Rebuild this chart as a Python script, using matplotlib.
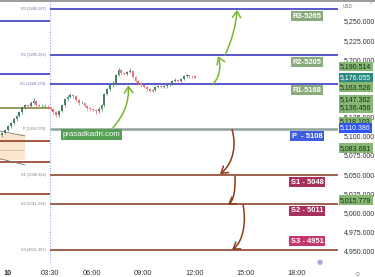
import numpy as np
import matplotlib.pyplot as plt
from matplotlib.path import Path
from matplotlib.patches import FancyArrowPatch, Rectangle
from matplotlib.lines import Line2D

plt.rcParams['font.family'] = ['Liberation Sans', 'DejaVu Sans']

# 10 minute candles, time in hours
first_open = 5100.5
closes = [5103.2, 5107.1, 5112.4, 5116.3, 5121.6, 5125.5, 5130.7, 5137.3, 5139.9, 5138.5,
          5142.5, 5145.2, 5139.9, 5138.6, 5139.5, 5138.2, 5137.3, 5134.7, 5130.7, 5126.8,
          5132.0, 5139.9, 5147.8, 5150.4, 5153.0, 5151.7, 5146.5, 5142.5, 5143.0, 5138.6,
          5136.0, 5134.7, 5133.4, 5132.0, 5134.7, 5139.9, 5154.3, 5160.9, 5166.1, 5168.7,
          5179.2, 5185.8, 5181.8, 5180.5, 5183.2, 5184.5, 5176.6, 5171.4, 5168.7, 5166.1,
          5163.5, 5160.9, 5158.3, 5159.6, 5163.5, 5164.8, 5163.5, 5164.8, 5166.1, 5167.4,
          5171.4, 5172.7, 5171.4, 5174.0, 5177.9, 5179.2, 5177.9, 5177.5, 5176.1]
highs = [5105, 5109, 5114, 5118, 5124, 5127, 5133, 5139, 5142, 5141,
         5146, 5149, 5147, 5142, 5141, 5141, 5140, 5139, 5136, 5132,
         5134, 5141, 5150, 5153, 5156, 5155, 5153, 5148, 5145, 5144,
         5140, 5138, 5136, 5135, 5137, 5142, 5156, 5163, 5168, 5171,
         5181, 5189, 5187, 5184, 5185, 5188, 5186, 5178, 5173, 5170,
         5167, 5165, 5162, 5161, 5165, 5166, 5166, 5166, 5168, 5169,
         5173, 5175, 5174, 5176, 5180, 5181, 5180, 5179, 5178]
lows = [5099, 5102, 5106, 5110, 5115, 5120, 5124, 5129, 5135, 5136,
        5137, 5141, 5138, 5137, 5137, 5136, 5135, 5132, 5128, 5124,
        5125, 5131, 5138, 5146, 5149, 5149, 5145, 5140, 5141, 5137,
        5134, 5133, 5131, 5129, 5130, 5133, 5138, 5153, 5159, 5164,
        5167, 5178, 5180, 5179, 5179, 5182, 5175, 5170, 5167, 5164,
        5162, 5159, 5157, 5157, 5158, 5162, 5162, 5162, 5163, 5165,
        5166, 5170, 5170, 5170, 5173, 5176, 5176, 5176, 5175]
times = 0.7 + np.arange(len(closes)) / 6.0

# fibonacci pivots of the day
pivot_names = ['R3', 'R2', 'R1', 'P', 'S1', 'S2', 'S3']
pivot_values = [5265.207, 5205.263, 5168.276, 5108.270, 5048.264, 5011.234, 4951.397]
pivot_boxes = ['R3-5265', 'R2-5205', 'R1-5168', 'P  - 5108', 'S1 - 5048', 'S2 - 5011', 'S3 - 4951']

# previous session levels
prev_levels = [5250.4, 5180.8, 5136.4, 5093.3, 5065.9, 5024.1]
prev_colors = ['#4a4ac8', '#4a4ac8', '#8a9450', '#a04a35', '#a04a35', '#a04a35']

# right axis price tags
tag_values = [5190.514, 5176.055, 5163.526, 5147.362, 5136.456, 5118.103, 5110.386, 5083.681, 5015.779]
tag_kinds = ['g', 't', 'g', 'g', 'g', 'g', 'b', 'g', 'g']

tick_values = [4950, 4975, 5000, 5025, 5050, 5075, 5100, 5125, 5200, 5225, 5250]
time_ticks = [1.0, 3.5, 6, 9, 12, 15, 18]
time_labels = ['10', '03:30', '06:00', '09:00', '12:00', '15:00', '18:00']

# hand drawn arrows (time, price)
up_arrows = [[(7.21, 5111), (7.9, 5128), (8.15, 5145), (8.11, 5166)],
             [(13.09, 5167.7), (13.55, 5178), (13.55, 5195), (13.38, 5204)],
             [(13.80, 5205.6), (14.2, 5225), (14.45, 5245), (14.50, 5264.5)]]
down_arrows = [[(14.21, 5108), (14.45, 5090), (14.35, 5065), (13.50, 5050)],
               [(14.38, 5047), (14.42, 5030), (14.3, 5015), (13.97, 5010)],
               [(14.85, 5010), (15.05, 4990), (14.9, 4962), (14.21, 4951)]]

fig = plt.figure(figsize=(3.75, 2.77), dpi=100)
ax = fig.add_axes([0, 14 / 277, 338 / 375, 262 / 277])
ax.set_xlim(0.56, 20.44)
ax.set_ylim(4933.9, 5276.1)
for s in ax.spines.values():
    s.set_visible(False)

session = 3.5
ax.axvline(session, color='#9aa6e6', lw=0.8, ls=(0, (1, 1.5)), zorder=1)

# previous session pivots
for v, c in zip(prev_levels, prev_colors):
    ax.hlines(v, 0.56, session, color=c, lw=1.3, zorder=2)

# small fib projection box on the left
ax.add_patch(Rectangle((0.56, 5068.5), 1.47, 33.9, color='#fcdcb8', alpha=0.7, lw=0, zorder=1))
ax.plot([0.56, 2.03], [5106.3, 5099.8], color='#777777', lw=0.6, zorder=2)
ax.plot([0.56, 2.03], [5070.0, 5062.0], color='#777777', lw=0.6, zorder=2)
ax.plot([0.56, 2.03], [5081.5, 5081.5], color='#999999', lw=0.6, ls=(0, (1.5, 1.5)), zorder=2)

# today's pivots
pcolors = {'R': '#4a4ac8', 'P': '#8fa29a', 'S': '#94553f'}
for name, v, box in zip(pivot_names, pivot_values, pivot_boxes):
    c = pcolors[name[0]]
    ax.hlines(v, session, 20.44, color=c, lw=1.8 if name == 'P' else 1.3, zorder=2)
    ax.text(session - 0.25, v, '%s (%.3f)' % (name, v), fontsize=2.8, ha='right', va='center',
            color='#6a6ab0' if name[0] == 'R' else '#8a7a70', zorder=3)
    if name[0] == 'R':
        fc = '#8cab7c'
    elif name == 'P':
        fc = '#3d5ee0'
    elif name == 'S3':
        fc = '#c2386e'
    else:
        fc = '#a8305c'
    dy = 6 if name == 'S3' else -5
    ax.annotate(box, (18.62, v), xytext=(0, dy), textcoords='offset points', ha='center',
                va='center', fontsize=5.4, fontweight='bold', color='white', zorder=6,
                bbox=dict(boxstyle='square,pad=0.2', fc=fc, ec='none'))

# candles
opens = np.array([first_open] + closes[:-1])
closes_a = np.array(closes)
up = closes_a >= opens
cols = np.where(up, '#4a8066', '#e8737a')
ax.vlines(times, lows, highs, colors=cols, lw=0.5, zorder=4)
body = np.maximum(np.abs(closes_a - opens), 0.6)
ax.bar(times, body, bottom=np.minimum(opens, closes_a), width=0.11, color=cols, lw=0, zorder=4)

# arrows
codes = [Path.MOVETO, Path.CURVE4, Path.CURVE4, Path.CURVE4]
for pts, c in [(p, '#78b82c') for p in up_arrows] + [(p, '#8e3b17') for p in down_arrows]:
    a = FancyArrowPatch(path=Path(pts, codes), arrowstyle='->,head_length=0.45,head_width=0.3',
                        mutation_scale=10, color=c, lw=1.1, transform=ax.transData, zorder=5)
    ax.add_patch(a)

# watermark box
ax.text(4.25, 5102, 'prasadkadri.com', fontsize=5.6, color='white', ha='left', va='center', zorder=6,
        bbox=dict(boxstyle='square,pad=0.25', fc='#55a055', ec='none'))

# axes ticks
ax.yaxis.tick_right()
ax.set_yticks(tick_values)
ax.set_yticklabels(['{:,.3f}'.format(v) for v in tick_values])
ax.tick_params(axis='y', length=0, pad=4, labelsize=5, labelcolor='#333333')
ax.set_xticks(time_ticks)
ax.set_xticklabels(time_labels)
ax.tick_params(axis='x', length=0, pad=5, labelsize=5.3, labelcolor='#333333')
ax.get_xticklabels()[0].set_fontweight('bold')

tag_fc = {'g': '#86b873', 't': '#2b8a80', 'b': '#2f55f0'}
tag_tc = {'g': '#1c2a1c', 't': 'white', 'b': 'white'}
for v, k in zip(tag_values, tag_kinds):
    ax.annotate('{:,.3f}'.format(v), (1.006, v), xycoords=('axes fraction', 'data'), ha='left',
                va='center', fontsize=5, color=tag_tc[k], annotation_clip=False, zorder=7,
                bbox=dict(boxstyle='square,pad=0.2', fc=tag_fc[k], ec='none'))

fig.add_artist(Line2D([0, 1], [0.997, 0.997], color='#8a8a8a', lw=1.2))
fig.text(343 / 375, 1 - 6 / 277, 'USD', fontsize=3.3, color='#666666', va='center')
fig.text(369 / 375, 1 - 6 / 277, '\u02c5', fontsize=4, color='#666666', va='center',
         family='DejaVu Sans')
fig.text(320 / 375, 1 - 262 / 277, '\u25cf', fontsize=5, color='#b0a6d8', ha='center',
         va='center', family='DejaVu Sans')
fig.text(357 / 375, 1 - 274 / 277, '\u2299', fontsize=4.5, color='#888888', ha='center',
         va='center', family='DejaVu Sans')

fig.savefig('out.png', dpi=100)
